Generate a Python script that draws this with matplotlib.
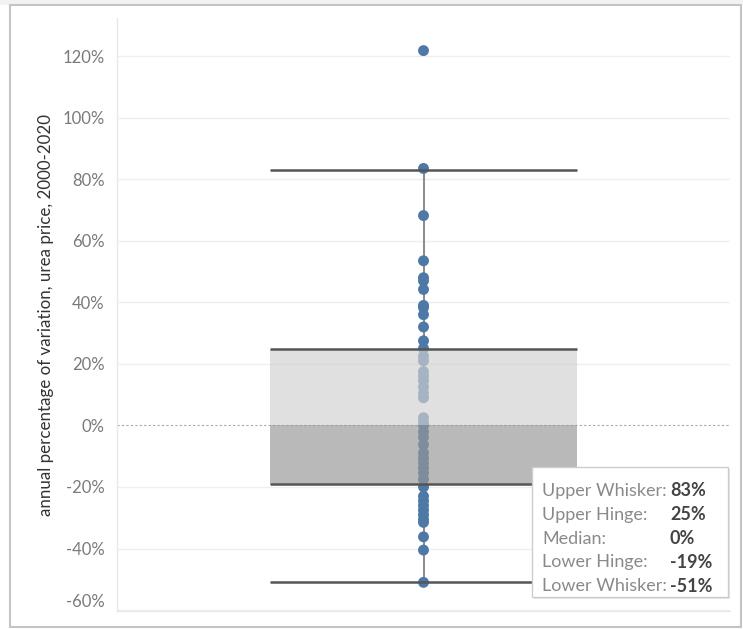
import matplotlib
matplotlib.use("Agg")
import matplotlib.pyplot as plt
from matplotlib.patches import Rectangle
from matplotlib.ticker import FuncFormatter

plt.rcParams['font.family'] = ['Lato', 'DejaVu Sans']

# Annual percentage variation of the urea price (%)
variation = [
    121.8, 83.5, 68.2, 53.5, 48.0, 47.0, 44.2, 39.0, 38.3, 36.0, 32.0, 27.5,
    25.0, 22.5, 21.0, 17.5, 16.0, 14.5, 12.5, 10.5, 9.0, 2.5, 1.0,
    0.0, -2.0, -3.8, -6.3, -8.9, -10.6, -12.2, -13.8, -15.5, -17.5,
    -20.0, -23.0, -24.5, -26.0, -27.5, -29.0, -30.5, -31.5, -36.2, -40.5, -51.0,
]

# Box plot summary (%)
upper_whisker = 83
upper_hinge = 25
median = 0
lower_hinge = -19
lower_whisker = -51

summary_labels = ["Upper Whisker:", "Upper Hinge:", "Median:", "Lower Hinge:", "Lower Whisker:"]
summary_values = [upper_whisker, upper_hinge, median, lower_hinge, lower_whisker]

y_ticks = [-60, -40, -20, 0, 20, 40, 60, 80, 100, 120]

W, H = 743, 629
fig = plt.figure(figsize=(W / 100, H / 100), dpi=100, facecolor='white')

# outer frame of the worksheet
fig.patches.append(Rectangle((0, 1 - 5 / H), 1, 5 / H, transform=fig.transFigure,
                             facecolor='#f2f2f2', edgecolor='none', zorder=-2))
fig.patches.append(Rectangle((10 / W, 1 - 627 / H), 731 / W, 622 / H, transform=fig.transFigure,
                             facecolor='white', edgecolor='#c4c4c4', linewidth=1.5, zorder=-1))

ax = fig.add_axes([117 / W, 1 - 611 / H, 613 / W, 593 / H])
ax.set_zorder(1)
ax.set_facecolor('none')
ax.set_xlim(-1, 1)
ax.set_ylim(-60.3, 132.4)

# grid
for t in y_ticks:
    if t == 0:
        ax.axhline(t, color='#a8a8a8', lw=0.8, ls=(0, (2, 2)), zorder=1)
    else:
        ax.axhline(t, color='#efefef', lw=1.0, zorder=0.5)

for side in ['top', 'right']:
    ax.spines[side].set_visible(False)
for side in ['left', 'bottom']:
    ax.spines[side].set_color('#e8e8e8')
    ax.spines[side].set_linewidth(1.0)

ax.set_xticks([])
ax.set_yticks(y_ticks)
ax.yaxis.set_major_formatter(FuncFormatter(lambda v, p: f"{v:.0f}%"))
ax.tick_params(axis='y', length=0, pad=9, labelsize=12, labelcolor='#7a7a7a')
for lbl in ax.get_yticklabels():
    if lbl.get_text() == '-60%':
        lbl.set_verticalalignment('bottom')

ax.set_ylabel("annual percentage of variation, urea price, 2000-2020",
              fontsize=12.2, color='#333333', labelpad=6)

# whiskers
ax.vlines(0, upper_hinge, upper_whisker, color='#777777', lw=1.2, zorder=2)
ax.vlines(0, lower_whisker, lower_hinge, color='#777777', lw=1.2, zorder=2)

# points
ax.scatter([0] * len(variation), variation, s=62, color='#4e79a7', edgecolors='none',
           zorder=3)

# box bands drawn over the marks
ax.add_patch(Rectangle((-0.5, median), 1.0, upper_hinge - median,
                       facecolor='#d1d1d1', alpha=0.67, edgecolor='none', zorder=4))
ax.add_patch(Rectangle((-0.5, lower_hinge), 1.0, median - lower_hinge,
                       facecolor='#979797', alpha=0.67, edgecolor='none', zorder=4))

for v in [upper_whisker, upper_hinge, lower_hinge, lower_whisker]:
    ax.hlines(v, -0.5, 0.5, color='#555555', lw=1.8, zorder=5)

# summary tooltip
tx0, ty0, tx1, ty1 = 532, 467, 728, 597
fig.patches.append(Rectangle((tx0 / W + 2 / W, 1 - (ty1 + 2) / H), (tx1 - tx0) / W, (ty1 - ty0) / H,
                             transform=fig.transFigure, facecolor='#e6e6e6',
                             edgecolor='none', zorder=9))
fig.patches.append(Rectangle((tx0 / W, 1 - ty1 / H), (tx1 - tx0) / W, (ty1 - ty0) / H,
                             transform=fig.transFigure, facecolor='white',
                             edgecolor='#cccccc', linewidth=1.0, zorder=10))
for i, (lab, val) in enumerate(zip(summary_labels, summary_values)):
    yc = 1 - (491 + i * 23.8) / H
    fig.text(542 / W, yc, lab, fontsize=13, color='#8a8a8a', va='center', ha='left', zorder=11)
    fig.text(670 / W, yc, f"{val}%", fontsize=13, color='#444444', fontweight='bold',
             va='center', ha='left', zorder=11)

fig.savefig("out.png", dpi=100, facecolor=fig.get_facecolor())
